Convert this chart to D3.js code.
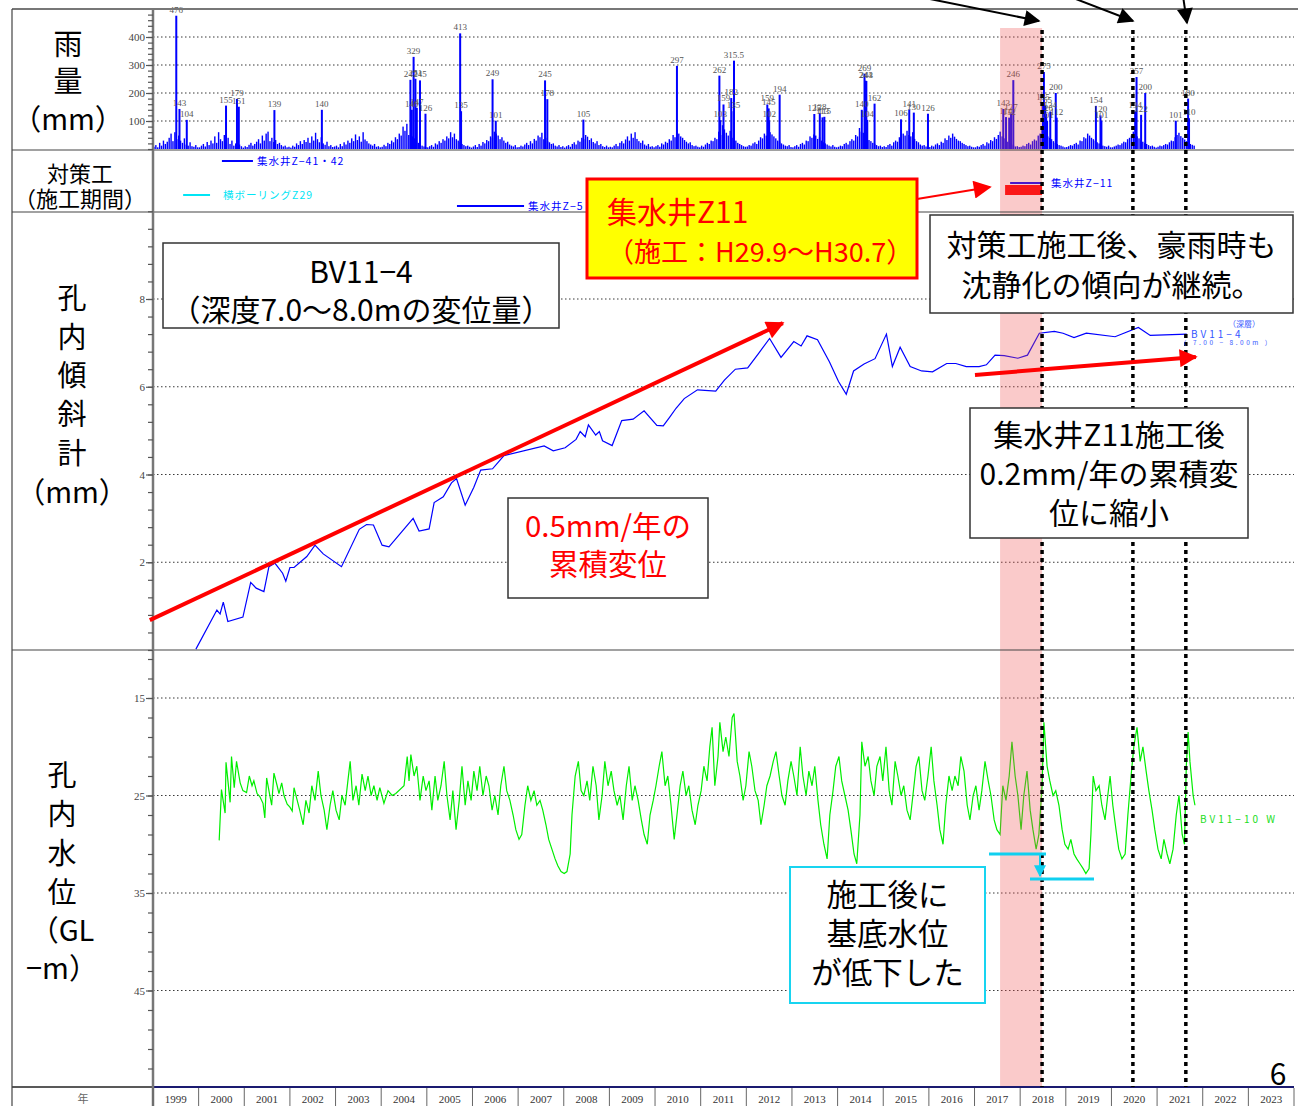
<!DOCTYPE html>
<html><head><meta charset="utf-8">
<script src="https://cdn.jsdelivr.net/npm/d3@7"></script>
<style>body{margin:0;background:#fff}svg{display:block}</style>
</head><body>
<svg id="c" width="1298" height="1106"></svg>
<script>
// ---------------- DATA ----------------
const yearLabels = ["1999","2000","2001","2002","2003","2004","2005","2006","2007","2008","2009","2010","2011","2012","2013","2014","2015","2016","2017","2018","2019","2020","2021","2022","2023"];
const rainTicks = [100,200,300,400];
const tiltTicks = [2,4,6,8];
const waterTicks = [15,25,35,45];

// background daily rainfall (mm), 24 samples per year starting 1999
const rainBgStartYear = 1999;
const rainBackground = [
[8,14,6,22,12,30,18,26,40,55,28,60,35,48,30,22,38,16,12,24,10,8,14,6],
[6,12,18,9,25,14,30,20,45,22,60,35,28,50,24,40,18,30,12,20,8,16,10,5],
[10,7,15,22,12,18,26,35,20,48,30,55,62,28,40,25,32,18,22,14,9,12,6,8],
[5,12,8,20,14,28,18,32,25,40,22,45,30,58,35,24,42,20,15,26,10,14,7,9],
[12,6,18,10,24,16,30,22,38,28,52,32,45,26,60,34,28,20,16,12,18,8,10,6],
[8,15,10,22,18,30,24,42,35,55,48,80,65,90,50,70,45,38,28,22,15,12,9,7],
[6,10,14,8,20,16,28,22,35,30,45,38,60,42,55,35,30,25,18,14,10,12,8,5],
[9,14,7,18,12,25,20,32,28,45,40,62,55,48,35,42,30,22,26,16,12,9,14,6],
[7,12,9,16,22,14,28,20,36,30,48,42,58,35,40,28,24,18,20,12,9,14,7,10],
[5,10,14,8,18,24,16,30,26,40,35,50,44,32,38,25,20,28,14,18,10,7,12,6],
[8,6,12,18,10,22,28,20,34,45,30,55,40,60,36,28,22,30,16,12,18,8,10,6],
[10,14,8,20,16,26,22,35,30,50,42,68,55,45,40,32,26,20,24,14,10,12,8,6],
[12,8,16,22,18,30,28,40,35,62,50,85,70,58,48,65,40,35,30,22,18,14,10,8],
[9,14,12,20,24,18,30,42,38,55,48,70,60,52,45,38,30,26,20,16,12,10,14,7],
[6,10,14,8,18,22,16,30,28,45,40,52,48,36,42,30,24,20,16,12,9,14,8,6],
[8,12,10,18,22,16,28,35,30,50,45,75,62,58,48,40,32,28,22,18,14,10,12,7],
[10,7,14,18,12,24,30,26,42,38,55,48,65,50,45,60,36,28,24,16,12,14,9,6],
[7,12,9,16,20,14,26,22,38,32,48,40,55,44,36,30,28,22,18,14,10,12,8,6],
[6,10,8,14,18,12,24,20,32,28,42,36,50,62,45,38,30,26,20,16,12,9,10,7],
[8,12,10,18,22,16,28,34,30,48,55,75,62,50,45,40,35,28,22,18,14,12,9,6],
[7,10,14,12,18,22,16,30,28,42,38,55,48,40,35,30,24,20,16,12,10,8,12,6],
[6,9,12,16,14,20,26,24,35,40,48,62,55,45,38,32,26,22,18,14,10,12,8,5],
[8,12,10,14,18,16,24,30,28,42,50,58,46,40,34,28,22,18,15,12,0,0,0,0]
];

// labelled heavy-rain days
const peakYears = [1999.51,1999.58,1999.74,2000.60,2000.84,2000.88,2001.66,2002.70,2004.64,2004.67,2004.71,2004.75,2004.78,2004.85,2004.97,2005.73,2005.75,2006.44,2006.51,2007.59,2007.64,2008.43,2010.48,2011.41,2011.43,2011.50,2011.67,2011.72,2011.73,2012.46,2012.49,2012.50,2012.73,2013.49,2013.61,2013.67,2013.71,2014.53,2014.59,2014.61,2014.63,2014.65,2014.81,2015.39,2015.57,2015.67,2015.98,2017.63,2017.69,2017.76,2017.80,2017.85,2018.50,2018.52,2018.55,2018.57,2018.59,2018.66,2018.78,2018.80,2019.66,2019.76,2019.78,2020.52,2020.55,2020.65,2020.74,2021.41,2021.68,2021.70];
const peakValues = [476,143,104,155,179,151,139,140,247,140,329,251,147,245,126,413,135,249,101,245,178,105,297,262,103,159,182,135,315.5,159,145,102,194,125,128,113,115,140,269,244,243,104,162,106,141,130,126,143,114,112,127,246,165,275,155,126,101,134,200,112,154,120,101,134,257,122,200,101,180,110];
const peakLabels = ["476","143","104","155","179","151","139","140","247","140","329","251","147","245","126","413","135","249","101","245","178","105","297","262","103","159","182","135","315.5","159","145","102","194","125","128","113","115","140","269","244","243","104","162","106","141","130","126","143","114","112","127","246","165","275","155","126","101","134","200","112","154","120","101","134","257","122","200","101","180","110"];

// countermeasures (construction periods)
const measureNames = ["集水井Z−41・42","横ボーリングZ29","集水井Z−5","集水井Z−11"];
const measureStart = [2000.51,1999.66,2005.66,2017.78];
const measureEnd   = [2001.19,2000.25,2007.13,2018.48];
const z11Period = [2017.67, 2018.48];   // 集水井Z11 施工 H29.9〜H30.7

// inclinometer BV11-4 (7.0-8.0m), cumulative displacement mm
const tiltYears = [1999.94,2000.40,2000.47,2000.54,2000.64,2000.97,2001.14,2001.26,2001.43,2001.54,2001.67,2001.84,2001.91,2002.00,2002.09,2002.37,2002.55,2002.73,2003.13,2003.52,2003.68,2003.83,2004.02,2004.17,2004.70,2004.83,2005.05,2005.16,2005.36,2005.54,2005.65,2005.84,2006.03,2006.18,2006.44,2006.69,2007.57,2007.77,2008.03,2008.27,2008.36,2008.47,2008.54,2008.70,2008.78,2008.85,2009.06,2009.27,2009.52,2009.76,2010.04,2010.18,2010.33,2010.46,2010.64,2010.93,2011.33,2011.52,2011.76,2012.03,2012.27,2012.51,2012.76,2013.04,2013.20,2013.33,2013.56,2013.82,2014.02,2014.19,2014.35,2014.58,2014.82,2015.07,2015.20,2015.37,2015.59,2015.84,2016.08,2016.39,2016.59,2016.82,2017.10,2017.26,2017.45,2017.65,2017.95,2018.16,2018.42,2018.75,2018.94,2019.18,2019.45,2020.08,2020.59,2020.85,2021.65];
const tiltValues = [0.02,0.91,0.82,1.09,0.65,0.75,1.54,1.41,1.33,1.90,1.98,1.75,1.57,1.88,1.88,2.13,2.39,2.19,1.90,2.75,2.86,2.85,2.39,2.35,3.00,2.71,2.76,3.36,3.49,3.81,3.91,3.30,3.71,4.10,4.13,4.43,4.65,4.54,4.61,4.80,4.98,4.86,5.13,4.90,4.98,4.77,4.66,5.23,5.26,5.45,5.12,5.11,5.32,5.51,5.73,5.93,5.90,6.15,6.40,6.43,6.76,7.10,6.67,7.03,6.93,7.16,7.07,6.57,6.12,5.83,6.36,6.52,6.64,7.20,6.46,6.90,6.46,6.36,6.34,6.53,6.53,6.46,6.46,6.50,6.72,6.71,6.65,6.72,7.22,7.26,7.22,7.12,7.22,7.14,7.35,7.17,7.20];

// trend annotations (year, mm)
const trendBefore = [[1998.93,0.68],[2012.80,7.45]];
const trendAfter  = [[2017.01,6.27],[2021.85,6.68]];

// groundwater level BV11-10W, GL-m
const waterYears = [2000.45,2000.50,2000.58,2000.60,2000.69,2000.72,2000.78,2000.83,2000.91,2000.97,2001.05,2001.11,2001.17,2001.21,2001.28,2001.34,2001.41,2001.45,2001.49,2001.54,2001.60,2001.65,2001.72,2001.76,2001.82,2001.87,2001.94,2002.00,2002.05,2002.09,2002.16,2002.22,2002.29,2002.35,2002.42,2002.48,2002.55,2002.62,2002.68,2002.75,2002.81,2002.88,2002.94,2003.01,2003.08,2003.14,2003.21,2003.27,2003.32,2003.38,2003.45,2003.51,2003.58,2003.65,2003.71,2003.78,2003.84,2003.91,2003.97,2004.06,2004.15,2004.24,2004.32,2004.50,2004.57,2004.61,2004.65,2004.72,2004.78,2004.85,2004.92,2004.98,2005.05,2005.11,2005.18,2005.24,2005.31,2005.38,2005.44,2005.51,2005.57,2005.64,2005.71,2005.77,2005.84,2005.90,2005.97,2006.03,2006.10,2006.16,2006.23,2006.30,2006.36,2006.43,2006.49,2006.56,2006.62,2006.69,2006.75,2006.82,2006.89,2006.95,2007.02,2007.08,2007.15,2007.21,2007.28,2007.35,2007.41,2007.48,2007.54,2007.61,2007.67,2007.74,2007.81,2007.87,2007.94,2008.01,2008.07,2008.14,2008.18,2008.25,2008.32,2008.38,2008.44,2008.51,2008.57,2008.64,2008.71,2008.77,2008.84,2008.90,2008.97,2009.04,2009.10,2009.17,2009.23,2009.30,2009.37,2009.43,2009.50,2009.56,2009.63,2009.70,2009.76,2009.83,2009.89,2009.96,2010.02,2010.09,2010.15,2010.22,2010.28,2010.35,2010.42,2010.48,2010.55,2010.61,2010.68,2010.74,2010.81,2010.88,2010.94,2011.01,2011.07,2011.14,2011.20,2011.25,2011.31,2011.38,2011.42,2011.49,2011.55,2011.62,2011.69,2011.73,2011.80,2011.86,2011.93,2011.99,2012.06,2012.12,2012.19,2012.26,2012.32,2012.39,2012.45,2012.52,2012.59,2012.65,2012.72,2012.78,2012.85,2012.91,2012.98,2013.04,2013.11,2013.18,2013.24,2013.31,2013.37,2013.44,2013.50,2013.57,2013.63,2013.70,2013.77,2013.83,2013.90,2013.96,2014.03,2014.09,2014.16,2014.23,2014.29,2014.36,2014.42,2014.49,2014.53,2014.60,2014.67,2014.73,2014.80,2014.86,2014.93,2014.99,2015.06,2015.13,2015.19,2015.26,2015.32,2015.39,2015.45,2015.52,2015.59,2015.65,2015.72,2015.78,2015.85,2015.91,2015.98,2016.05,2016.11,2016.18,2016.24,2016.31,2016.37,2016.44,2016.51,2016.57,2016.64,2016.70,2016.77,2016.84,2016.90,2016.97,2017.03,2017.10,2017.16,2017.23,2017.30,2017.36,2017.43,2017.49,2017.56,2017.62,2017.69,2017.76,2017.82,2017.89,2017.95,2018.02,2018.08,2018.15,2018.22,2018.28,2018.35,2018.41,2018.48,2018.52,2018.59,2018.65,2018.72,2018.78,2018.85,2018.92,2018.98,2019.05,2019.11,2019.18,2019.24,2019.31,2019.38,2019.44,2019.51,2019.55,2019.60,2019.66,2019.73,2019.79,2019.86,2019.92,2019.97,2020.03,2020.10,2020.16,2020.23,2020.30,2020.36,2020.43,2020.49,2020.56,2020.63,2020.69,2020.76,2020.82,2020.89,2020.95,2021.02,2021.09,2021.15,2021.22,2021.28,2021.35,2021.42,2021.48,2021.55,2021.60,2021.64,2021.68,2021.72,2021.79,2021.83];
const waterLevels = [29.6,24.4,26.8,21.6,25.7,21.0,24.2,21.5,23.7,24.5,24.7,23.0,24.0,23.5,24.8,25.1,25.8,27.3,23.2,24.5,26.0,22.7,24.0,24.8,23.7,25.0,25.9,26.2,26.6,24.2,25.5,26.6,28.0,25.5,26.8,24.0,25.5,22.5,25.0,26.5,28.5,26.0,24.5,26.5,27.5,25.0,26.0,23.5,21.5,25.5,24.0,26.0,22.8,24.5,23.0,25.0,24.0,25.5,24.2,25.8,24.5,25.0,24.8,24.0,21.0,23.5,20.8,23.0,22.0,25.5,23.0,24.5,23.5,26.5,23.0,25.5,24.0,21.5,25.0,27.5,24.5,28.5,25.5,22.0,26.0,23.5,25.5,22.5,24.5,22.0,25.0,23.0,24.0,26.5,25.0,27.0,24.0,22.0,24.5,25.5,27.0,28.5,29.5,29.0,26.0,24.0,25.5,24.5,26.0,25.5,26.5,28.0,29.5,30.5,31.5,32.2,32.8,33.0,32.8,31.0,27.0,23.0,21.5,24.5,25.0,23.5,25.5,22.0,24.0,27.5,25.0,21.5,24.0,22.5,24.5,26.0,25.0,27.5,24.0,22.0,25.5,24.0,25.5,27.5,29.0,30.0,27.0,25.5,24.0,22.0,20.5,24.0,23.0,26.0,29.5,27.0,24.0,22.5,25.0,24.0,26.5,28.0,26.0,24.5,22.0,23.5,20.0,18.0,24.0,21.0,17.5,20.5,19.0,21.0,17.0,16.6,21.5,23.0,25.5,24.0,20.5,22.0,24.5,25.5,28.0,26.0,24.0,23.0,21.5,20.5,23.0,25.0,26.0,23.5,21.5,23.0,25.0,20.0,23.0,25.0,22.5,24.0,22.0,25.5,28.0,30.0,31.5,27.0,24.5,22.0,21.0,23.5,25.0,26.5,28.5,31.0,32.0,27.0,19.5,22.0,21.0,23.5,25.0,22.0,21.0,23.5,20.0,24.5,26.0,21.5,23.0,25.0,24.0,26.5,27.5,25.0,22.0,21.0,24.5,25.5,23.0,20.0,23.5,26.0,28.5,30.0,26.0,23.0,24.5,23.0,24.0,21.0,22.5,26.0,27.5,25.0,24.0,26.5,24.5,21.5,23.5,25.0,27.5,28.5,29.0,24.0,25.5,23.0,19.5,23.0,25.0,28.5,25.0,22.5,26.5,28.5,30.5,29.0,24.0,17.5,22.0,23.5,25.0,24.5,26.0,28.5,30.0,30.5,29.5,31.0,31.5,32.0,32.5,33.0,32.5,29.0,23.0,24.5,24.0,26.0,27.5,25.0,23.0,26.0,28.5,30.5,31.5,31.0,27.0,23.0,20.0,18.0,21.5,20.0,22.5,24.5,26.5,28.5,30.5,31.5,29.5,31.0,32.0,30.5,27.0,25.0,29.0,30.0,22.0,18.5,21.5,25.0,26.0];

// key dates (dotted markers)
const markerYears = [2018.48, 2020.47, 2021.63];

// ---------------- DRAW ----------------
const svg = d3.select('#c');
const L = 153, R = 1294;
const JP = "'Noto Sans CJK JP','Noto Sans',sans-serif";
const SERIF = "'Liberation Serif','DejaVu Serif',serif";
const x  = d3.scaleLinear().domain([1999, 2024]).range([L, R]);
const yR = d3.scaleLinear().domain([0, 500]).range([149, 9]);
const yT = d3.scaleLinear().domain([0, 10]).range([650, 211.25]);
const yW = d3.scaleLinear().domain([10, 55]).range([649.25, 1088]);

svg.append('rect').attr('width',1298).attr('height',1106).attr('fill','#fff');
const defs = svg.append('defs');
function marker(id, color, w, h){
  defs.append('marker').attr('id',id).attr('viewBox','0 0 10 10').attr('refX',9).attr('refY',5)
    .attr('markerWidth',w).attr('markerHeight',h).attr('markerUnits','userSpaceOnUse').attr('orient','auto')
    .append('path').attr('d','M0,0L10,5L0,10z').attr('fill',color);
}
marker('ar','#ff0000',22,18); marker('ab','#000',20,16); marker('ac','#10d0f0',12,12);
defs.append('clipPath').attr('id','rc').append('rect').attr('x',L).attr('y',9).attr('width',R-L).attr('height',141);

// gridlines
function grid(vals, y){
  svg.append('g').selectAll('line').data(vals).join('line')
    .attr('x1',L).attr('x2',R).attr('y1',d=>y(d)).attr('y2',d=>y(d))
    .attr('stroke','#222').attr('stroke-width',0.9).attr('stroke-dasharray','1.5,2.5');
}
grid(rainTicks,yR); grid(tiltTicks,yT); grid(waterTicks,yW);

// rainfall
const bg = [];
rainBackground.forEach((arr,yi)=>arr.forEach((v,i)=>{ if(v>0) bg.push([rainBgStartYear+yi+(i+0.5)/24, v]); }));
const rg = svg.append('g').attr('clip-path','url(#rc)');
rg.selectAll('rect.bg').data(bg).join('rect').attr('class','bg')
  .attr('x',d=>x(d[0])-0.7).attr('width',1.4).attr('y',d=>yR(d[1])).attr('height',d=>yR(0)-yR(d[1])).attr('fill','#0000ff');
const peaks = peakYears.map((t,i)=>({t, v:peakValues[i], label:peakLabels[i]}));
rg.selectAll('rect.pk').data(peaks).join('rect').attr('class','pk')
  .attr('x',d=>x(d.t)-1).attr('width',2).attr('y',d=>yR(d.v)).attr('height',d=>yR(0)-yR(d.v)).attr('fill','#0000ff');
svg.append('g').selectAll('text').data(peaks).join('text')
  .attr('x',d=>x(d.t)).attr('y',d=>yR(d.v)-3).attr('text-anchor','middle')
  .attr('font-family',SERIF).attr('font-size',9).attr('fill','#555').text(d=>d.label);

// countermeasure periods
const rowY = [161, 195, 206, 183];
const rowColor = ['#0000ff','#00e5f5','#0000ff','#0000ff'];
measureNames.forEach((n,i)=>{
  svg.append('line').attr('x1',x(measureStart[i])).attr('x2',x(measureEnd[i])).attr('y1',rowY[i]).attr('y2',rowY[i])
    .attr('stroke',rowColor[i]).attr('stroke-width',2);
  svg.append('text').attr('x',x(measureEnd[i])+ (i===1?13:(i===3?9:4))).attr('y',rowY[i]+4)
    .attr('font-family',JP).attr('font-size',10.5).attr('letter-spacing',1).attr('fill',rowColor[i]).text(n);
});
svg.append('rect').attr('x',x(z11Period[0])).attr('y',185).attr('width',x(z11Period[1])-x(z11Period[0])).attr('height',10).attr('fill','#ff0000');

// tilt line
svg.append('path').datum(tiltYears.map((t,i)=>[t,tiltValues[i]]))
  .attr('d',d3.line().x(d=>x(d[0])).y(d=>yT(d[1]))).attr('fill','none').attr('stroke','#0000ff').attr('stroke-width',1.2);
// water line
svg.append('path').datum(waterYears.map((t,i)=>[t,waterLevels[i]]))
  .attr('d',d3.line().x(d=>x(d[0])).y(d=>yW(d[1]))).attr('fill','none').attr('stroke','#00ee00').attr('stroke-width',1.2);

// pink construction band (overlay)
svg.append('rect').attr('x',x(2017.56)).attr('y',28).attr('width',x(2018.48)-x(2017.56)).attr('height',1087-28)
  .attr('fill','rgb(240,80,80)').attr('opacity',0.3);

// frame
const fr = svg.append('g').attr('stroke','#444');
fr.append('line').attr('x1',12).attr('x2',1298).attr('y1',9).attr('y2',9).attr('stroke','#777').attr('stroke-width',2);
[150,212,650].forEach(y=>fr.append('line').attr('x1',12).attr('x2',R).attr('y1',y).attr('y2',y).attr('stroke-width',1.2));
fr.append('line').attr('x1',12).attr('x2',R).attr('y1',1087).attr('y2',1087).attr('stroke','#222').attr('stroke-width',1.5);
fr.append('line').attr('x1',L).attr('x2',R).attr('y1',1087).attr('y2',1087).attr('stroke','#1a1a70').attr('stroke-width',2);
fr.append('line').attr('x1',12).attr('x2',12).attr('y1',9).attr('y2',1106).attr('stroke-width',1.2);
fr.append('line').attr('x1',L).attr('x2',L).attr('y1',9).attr('y2',1106).attr('stroke','#777').attr('stroke-width',2.5);

// axes
function axis(scale, major, minor){
  const g1 = svg.append('g').attr('transform',`translate(${L},0)`).call(d3.axisLeft(scale).tickValues(minor).tickSize(5).tickFormat(''));
  const g2 = svg.append('g').attr('transform',`translate(${L},0)`).call(d3.axisLeft(scale).tickValues(major).tickSize(7).tickPadding(1));
  [g1,g2].forEach(g=>{ g.select('.domain').remove(); g.selectAll('line').attr('stroke','#555').attr('stroke-width',1.2); });
  g2.selectAll('text').attr('font-family',SERIF).attr('font-size',11).attr('fill','#444');
}
axis(yR, rainTicks, d3.range(0,500,20));
axis(yT, tiltTicks, d3.range(0,10.01,0.4).map(v=>+v.toFixed(1)));
axis(yW, waterTicks, d3.range(11,55,2));

// year axis row
const yg = svg.append('g');
yg.selectAll('line').data(d3.range(1999,2025)).join('line')
  .attr('x1',d=>x(d)).attr('x2',d=>x(d)).attr('y1',1088).attr('y2',1106).attr('stroke','#666').attr('stroke-width',1);
yg.selectAll('text').data(yearLabels).join('text')
  .attr('x',(d,i)=>x(1999+i+0.5)).attr('y',1103).attr('text-anchor','middle')
  .attr('font-family',SERIF).attr('font-size',11).attr('fill','#333').text(d=>d);
svg.append('text').attr('x',83).attr('y',1103).attr('text-anchor','middle').attr('font-family',JP).attr('font-size',11).attr('fill','#666').text('年');

// dotted markers
svg.selectAll('line.mk').data(markerYears).join('line').attr('class','mk')
  .attr('x1',d=>x(d)).attr('x2',d=>x(d)).attr('y1',30).attr('y2',1087)
  .attr('stroke','#000').attr('stroke-width',3.5).attr('stroke-dasharray','4,4');

// black arrows at top
[[915,-4,1039,21],[1068,-4,1133,21],[1183,-4,1187,23]].forEach(a=>{
  svg.append('line').attr('x1',a[0]).attr('y1',a[1]).attr('x2',a[2]).attr('y2',a[3])
    .attr('stroke','#000').attr('stroke-width',2).attr('marker-end','url(#ab)');
});

// red trend arrows
[trendBefore, trendAfter].forEach(tr=>{
  svg.append('line').attr('x1',x(tr[0][0])).attr('y1',yT(tr[0][1])).attr('x2',x(tr[1][0])).attr('y2',yT(tr[1][1]))
    .attr('stroke','#ff0000').attr('stroke-width',4).attr('marker-end','url(#ar)');
});
// arrow from yellow box to Z11 bar
svg.append('line').attr('x1',917).attr('y1',199).attr('x2',990).attr('y2',187)
  .attr('stroke','#ff0000').attr('stroke-width',2).attr('marker-end','url(#ar)');

// text boxes
function box(x0,y0,w,h,stroke,sw,fill,lines,color,sizes,firstY,lh,anchor,tx){
  svg.append('rect').attr('x',x0).attr('y',y0).attr('width',w).attr('height',h)
    .attr('fill',fill).attr('stroke',stroke).attr('stroke-width',sw);
  lines.forEach((t,i)=>svg.append('text').attr('x',tx!==undefined?tx:x0+w/2).attr('y',firstY+i*lh)
    .attr('text-anchor',anchor||'middle').attr('dominant-baseline','central')
    .attr('font-family',JP).attr('font-size',Array.isArray(sizes)?sizes[i]:sizes).attr('fill',color).text(t));
}
box(163,243,396,85,'#333',1.5,'#fff',['BV11−4','（深度7.0〜8.0mの変位量）'],'#000',30,270,38);
box(587,179,330,99,'#ff0000',3,'#ffff00',['集水井Z11','（施工：H29.9〜H30.7）'],'#ff0000',[30,27],210,40,'start',607);
box(930,215,363,98,'#333',1.5,'#fff',['対策工施工後、豪雨時も','沈静化の傾向が継続。'],'#000',30,243,40);
box(508,498,200,100,'#333',1.5,'#fff',['0.5mm/年の','累積変位'],'#ff0000',29.5,524,38);
box(970,408,278,130,'#333',1.5,'#fff',['集水井Z11施工後','0.2mm/年の累積変','位に縮小'],'#000',30,433,39);
box(790,867,195,136,'#18d4f0',2,'#fff',['施工後に','基底水位','が低下した'],'#000',30.5,893,39);

// cyan base-level markers
const cy = '#10d0f0';
svg.append('line').attr('x1',989).attr('x2',1046).attr('y1',854).attr('y2',854).attr('stroke',cy).attr('stroke-width',3);
svg.append('line').attr('x1',1040).attr('x2',1040).attr('y1',854).attr('y2',876).attr('stroke',cy).attr('stroke-width',2).attr('marker-end','url(#ac)');
svg.append('line').attr('x1',1030).attr('x2',1094).attr('y1',879).attr('y2',879).attr('stroke',cy).attr('stroke-width',3);

// series legends
svg.append('text').attr('x',1228).attr('y',327).attr('font-family',JP).attr('font-size',8).attr('fill','#3355ff').text('（深層）');
svg.append('text').attr('x',1191).attr('y',338).attr('font-family',JP).attr('font-size',10).attr('letter-spacing',3).attr('fill','#3355ff').text('BV11−4');
svg.append('text').attr('x',1180).attr('y',345).attr('font-family',JP).attr('font-size',6.5).attr('letter-spacing',2.5).attr('fill','#3355ff').text('（ 7.00 − 8.00m ）');
svg.append('text').attr('x',1200).attr('y',823).attr('font-family',JP).attr('font-size',10).attr('letter-spacing',3).attr('fill','#22dd22').text('BV11−10 W');

// left labels
function stack(cx, ys, texts, size){
  texts.forEach((t,i)=>svg.append('text').attr('x',cx).attr('y',ys[i]).attr('text-anchor','middle').attr('dominant-baseline','central')
    .attr('font-family',JP).attr('font-size',size).attr('fill','#000').text(t));
}
stack(68,[42,79,117],['雨','量','（mm）'],29);
stack(80,[172,197],['対策工','（施工期間）'],22);
stack(72,[296,335,373,412,451,490],['孔','内','傾','斜','計','（mm）'],29);
stack(62,[773,812,851,890,928,966],['孔','内','水','位','（GL','−m）'],29);

svg.append('text').attr('x',1278).attr('y',1072).attr('text-anchor','middle').attr('dominant-baseline','central')
  .attr('font-family',JP).attr('font-size',30).attr('fill','#000').text('6');
</script>
</body></html>
